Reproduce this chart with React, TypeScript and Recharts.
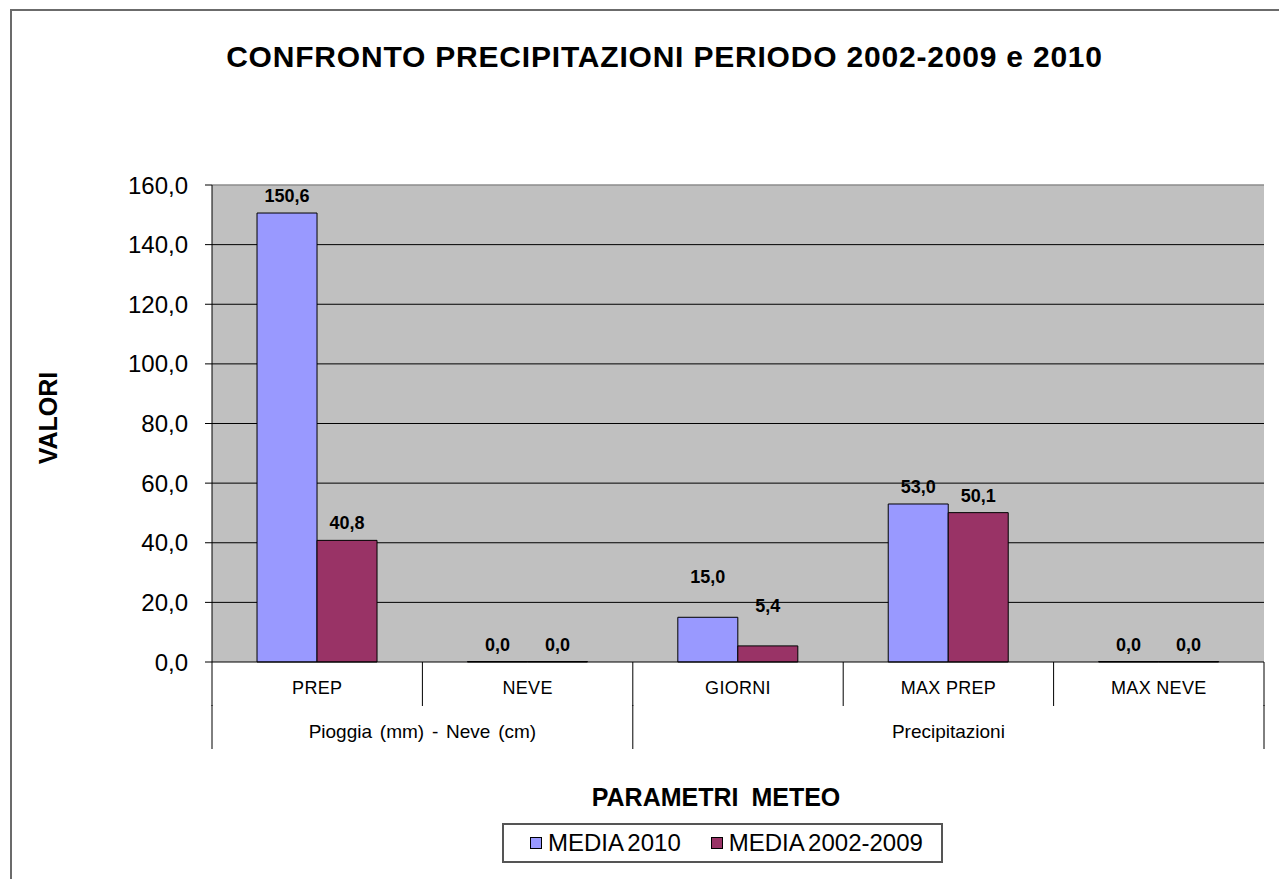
import React from "react";
import {
  Bar,
  BarChart,
  CartesianGrid,
  LabelList,
  Legend,
  XAxis,
  YAxis,
} from "recharts";

const categories = ["PREP", "NEVE", "GIORNI", "MAX PREP", "MAX NEVE"];
const groups = [
  "Pioggia (mm) - Neve (cm)",
  "Pioggia (mm) - Neve (cm)",
  "Precipitazioni",
  "Precipitazioni",
  "Precipitazioni",
];
const media2010 = [150.6, 0.0, 15.0, 53.0, 0.0];
const media20022009 = [40.8, 0.0, 5.4, 50.1, 0.0];
const yTicks = [0, 20, 40, 60, 80, 100, 120, 140, 160];
const seriesOrder = ["MEDIA 2010", "MEDIA 2002-2009"];

const data = categories.map((cat, i) => ({
  cat,
  group: groups[i],
  m2010: media2010[i],
  m0209: media20022009[i],
}));

const FONT = "'Liberation Sans', Arial, sans-serif";
const fmt = (v: number) => Number(v).toFixed(1).replace(".", ",");

function halfBand(props: any) {
  const { payload, width, visibleTicksCount } = props;
  if (payload && payload.offset) return payload.offset;
  return width / visibleTicksCount / 2;
}

function CategoryTick(props: any) {
  const { x, y, payload, index, visibleTicksCount } = props;
  const half = halfBand(props);
  const last = index === visibleTicksCount - 1;
  return (
    <g>
      <line x1={x - half} x2={x - half} y1={y} y2={y + 44} stroke="#000" />
      {last && (
        <line x1={x + half} x2={x + half} y1={y} y2={y + 44} stroke="#000" />
      )}
      <text
        x={x}
        y={y + 32}
        textAnchor="middle"
        fontSize={18}
        letterSpacing={0.3}
        fontFamily={FONT}
        fill="#000"
      >
        {payload.value}
      </text>
    </g>
  );
}

function GroupTick(props: any) {
  const { x, y, index, visibleTicksCount } = props;
  const half = halfBand(props);
  const last = index === visibleTicksCount - 1;
  const isStart = index === 0 || groups[index] !== groups[index - 1];
  let span = 0;
  if (isStart) {
    while (index + span < groups.length && groups[index + span] === groups[index]) span++;
  }
  return (
    <g>
      {isStart && (
        <line x1={x - half} x2={x - half} y1={y} y2={y + 44} stroke="#000" />
      )}
      {last && (
        <line x1={x + half} x2={x + half} y1={y} y2={y + 44} stroke="#000" />
      )}
      {isStart && (
        <text
          x={x - half + span * half}
          y={y + 33}
          textAnchor="middle"
          fontSize={19}
          wordSpacing={2.5}
          fontFamily={FONT}
          fill="#000"
        >
          {groups[index]}
        </text>
      )}
    </g>
  );
}

// Excel lifts the GIORNI labels higher than the others
const renderValue = (props: any) => {
  const vb = props.viewBox || {};
  const x = props.x ?? vb.x;
  const y = props.y ?? vb.y;
  const width = props.width ?? vb.width ?? 0;
  const { value, index } = props;
  const lift = index === 2 ? 34 : 11;
  return (
    <text
      x={Number(x) + Number(width) / 2}
      y={Number(y) - lift}
      textAnchor="middle"
      fontSize={18}
      fontWeight="bold"
      fontFamily={FONT}
      fill="#000"
    >
      {fmt(value)}
    </text>
  );
};

function LegendBox(props: any) {
  const items = [...(props.payload || [])].sort(
    (a: any, b: any) => seriesOrder.indexOf(a.value) - seriesOrder.indexOf(b.value)
  );
  return (
    <div
      style={{
        boxSizing: "border-box",
        width: 441,
        height: 40,
        border: "2px solid #555",
        background: "#fff",
        display: "flex",
        alignItems: "center",
        paddingLeft: 26,
        fontFamily: FONT,
        fontSize: 24,
        color: "#000",
        whiteSpace: "nowrap",
      }}
    >
      {items.map((it: any, i: number) => (
        <div
          key={i}
          style={{
            display: "flex",
            alignItems: "center",
            marginRight: 30,
            flexShrink: 0,
          }}
        >
          <span
            style={{
              display: "inline-block",
              width: 10,
              height: 10,
              background: it.color,
              border: "1px solid #000",
              marginRight: 6,
            }}
          />
          <span style={{ wordSpacing: -2 }}>{it.value}</span>
        </div>
      ))}
    </div>
  );
}

export default function App() {
  return (
    <div
      style={{
        position: "absolute",
        left: 0,
        top: 0,
        width: 1279,
        height: 879,
        overflow: "hidden",
        background: "#fff",
        fontFamily: FONT,
      }}
    >
      <div
        style={{
          position: "absolute",
          left: 10,
          top: 9,
          width: 1400,
          height: 1000,
          borderLeft: "2px solid #6b6b6b",
          borderTop: "2px solid #6b6b6b",
        }}
      />
      <div
        style={{
          position: "absolute",
          left: 0,
          width: 1329,
          top: 38,
          textAlign: "center",
          fontWeight: "bold",
          fontSize: 30,
          letterSpacing: 0.8,
          lineHeight: "38px",
        }}
      >
        CONFRONTO PRECIPITAZIONI PERIODO 2002-2009 e 2010
      </div>
      <div
        style={{
          position: "absolute",
          left: 516,
          width: 400,
          top: 781,
          textAlign: "center",
          fontWeight: "bold",
          fontSize: 25,
          wordSpacing: 6,
          lineHeight: "32px",
        }}
      >
        PARAMETRI METEO
      </div>
      <div
        style={{
          position: "absolute",
          left: 48 - 60,
          width: 120,
          top: 418 - 16,
          textAlign: "center",
          fontWeight: "bold",
          fontSize: 25,
          lineHeight: "32px",
          transform: "rotate(-90deg)",
        }}
      >
        VALORI
      </div>
      <div style={{ position: "absolute", left: 0, top: 0 }}>
        <BarChart
          width={1279}
          height={879}
          data={data}
          margin={{ top: 185, right: 15, left: 0, bottom: 130 }}
          barCategoryGap="21.4%"
          barGap={0}
        >
          <CartesianGrid
            vertical={false}
            horizontalValues={[20, 40, 60, 80, 100, 120, 140]}
            stroke="#000"
            fill="#C0C0C0"
            fillOpacity={1}
          />
          <CartesianGrid
            vertical={false}
            horizontalValues={[160]}
            stroke="#8c8c8c"
            strokeWidth={1.5}
          />
          <XAxis
            dataKey="cat"
            height={43}
            tickSize={0}
            tickMargin={0}
            tickLine={false}
            axisLine={{ stroke: "#000" }}
            interval={0}
            tick={<CategoryTick />}
          />
          <XAxis
            xAxisId="grp"
            dataKey="group"
            height={44}
            tickSize={0}
            tickMargin={0}
            tickLine={false}
            axisLine={false}
            interval={0}
            tick={<GroupTick />}
          />
          <YAxis
            width={212}
            domain={[0, 160]}
            ticks={yTicks}
            tickFormatter={fmt}
            interval={0}
            tickSize={7}
            tickMargin={17}
            axisLine={{ stroke: "#000" }}
            tickLine={{ stroke: "#000" }}
            tick={{ fill: "#000", fontSize: 24, fontFamily: FONT }}
          />
          <YAxis
            yAxisId="frame"
            orientation="right"
            width={0}
            domain={[0, 160]}
            tick={false}
            tickLine={false}
            axisLine={{ stroke: "#8c8c8c", strokeWidth: 1.5 }}
          />
          <Legend
            verticalAlign="middle"
            align="center"
            wrapperStyle={{ left: 502, top: 823, width: 441, height: 40 }}
            content={<LegendBox />}
          />
          <Bar
            dataKey="m2010"
            name="MEDIA 2010"
            fill="#9999FF"
            stroke="#000"
            strokeWidth={1}
            minPointSize={0.5}
            isAnimationActive={false}
          >
            <LabelList dataKey="m2010" content={renderValue} />
          </Bar>
          <Bar
            dataKey="m0209"
            name="MEDIA 2002-2009"
            fill="#993366"
            stroke="#000"
            strokeWidth={1}
            minPointSize={0.5}
            isAnimationActive={false}
          >
            <LabelList dataKey="m0209" content={renderValue} />
          </Bar>
        </BarChart>
      </div>
    </div>
  );
}
